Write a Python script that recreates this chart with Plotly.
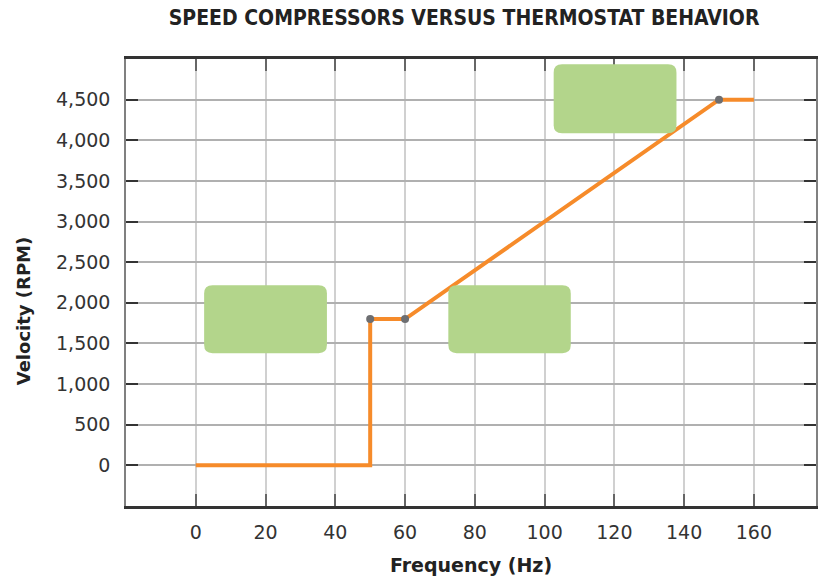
import plotly.graph_objects as go

# Data
freq = [0, 50, 50, 60, 150, 160]
rpm = [0, 0, 1800, 1800, 4500, 4500]
marker_freq = [50, 60, 150]
marker_rpm = [1800, 1800, 4500]

x_ticks = [0, 20, 40, 60, 80, 100, 120, 140, 160]
y_ticks = [0, 500, 1000, 1500, 2000, 2500, 3000, 3500, 4000, 4500]

# Green label boxes (x0, x1, y0, y1) in data units
boxes = [
    (2.4, 37.6, 1380, 2215),
    (72.4, 107.5, 1380, 2215),
    (102.6, 137.8, 4085, 4935),
]

ORANGE = "#f68b2a"
GREEN = "#b3d58b"

fig = go.Figure()
fig.add_trace(go.Scatter(x=freq, y=rpm, mode="lines",
                         line=dict(color=ORANGE, width=4), hoverinfo="skip"))
fig.add_trace(go.Scatter(x=marker_freq, y=marker_rpm, mode="markers",
                         marker=dict(color="#6d6e71", size=8), hoverinfo="skip"))


def rounded_path(x0, x1, y0, y1, rx=2.4, ry=100):
    return (f"M {x0+rx},{y0} L {x1-rx},{y0} Q {x1},{y0} {x1},{y0+ry} "
            f"L {x1},{y1-ry} Q {x1},{y1} {x1-rx},{y1} "
            f"L {x0+rx},{y1} Q {x0},{y1} {x0},{y1-ry} "
            f"L {x0},{y0+ry} Q {x0},{y0} {x0+rx},{y0} Z")


for (x0, x1, y0, y1) in boxes:
    fig.add_shape(type="path", path=rounded_path(x0, x1, y0, y1),
                  fillcolor=GREEN, line=dict(width=0), layer="above")

fig.add_annotation(text="<b>Velocity (RPM)</b>", xref="paper", yref="paper",
                   x=-0.149, y=0.436, textangle=-90, showarrow=False,
                   font=dict(family="DejaVu Sans", size=18, color="#222222"),
                   xanchor="center", yanchor="middle")

fig.update_layout(
    width=818, height=581,
    margin=dict(l=126, r=0, t=59, b=75),
    paper_bgcolor="white", plot_bgcolor="white",
    showlegend=False,
    font=dict(family="DejaVu Sans", color="#333333"),
    title=dict(text="<b>SPEED COMPRESSORS VERSUS THERMOSTAT BEHAVIOR</b>",
               font=dict(family="DejaVu Sans Condensed", size=21, color="#222222"),
               x=0.49, xref="paper", xanchor="center", y=0.97, yref="container", yanchor="middle"),
    xaxis=dict(range=[-20, 177.8], tickvals=x_ticks, showgrid=True,
               gridcolor="#d0d0d0", gridwidth=1.5, zeroline=False,
               showline=True, linecolor="#333333", linewidth=2.5, mirror="ticks",
               ticks="inside", ticklen=12, tickwidth=2, tickcolor="#666666",
               tickfont=dict(size=19, color="#333333"), ticklabelstandoff=7,
               title=dict(text="<b>Frequency (Hz)</b>", font=dict(size=19, color="#222222"), standoff=18)),
    yaxis=dict(range=[-500, 5000], tickvals=y_ticks, tickformat=",", showgrid=True,
               gridcolor="#b0b0b0", gridwidth=1.5, zeroline=False,
               showline=True, linecolor="#808080", linewidth=1.5, mirror="ticks",
               ticks="inside", ticklen=12, tickwidth=2, tickcolor="#333333",
               tickfont=dict(size=19, color="#333333"), ticklabelstandoff=10),
)

fig.write_html("out.html")
